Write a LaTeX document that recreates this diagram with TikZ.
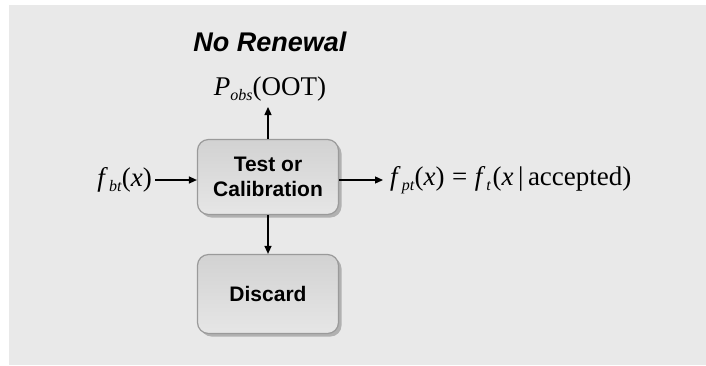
\documentclass[tikz,border=0pt]{standalone}
\usepackage{fontspec}
\setmainfont{Liberation Serif}
\setsansfont{Liberation Sans}
\usetikzlibrary{arrows.meta,shadows}
\definecolor{panel}{HTML}{E9E9E9}
\definecolor{boxtop}{HTML}{D2D2D2}
\definecolor{boxbot}{HTML}{E6E6E6}
\definecolor{boxedge}{HTML}{9A9A9A}
\newcommand{\ivar}[1]{\textit{#1}}
\newcommand{\isub}[1]{\raisebox{-0.4ex}{\fontsize{16}{16}\selectfont\textit{#1}}}
\begin{document}
\begin{tikzpicture}[x=1pt,y=-1pt,
  procbox/.style={draw=boxedge, line width=1.2pt, rounded corners=11pt,
    top color=boxtop, bottom color=boxbot,
    minimum width=141pt, align=center,
    font=\sffamily\bfseries\fontsize{21}{25}\selectfont,
    drop shadow={shadow xshift=3pt, shadow yshift=-3pt, fill=black!45, opacity=0.6}},
  flow/.style={line width=1.3pt, -{Triangle[length=8pt,width=7pt]}},
  mathlabel/.style={font=\fontsize{27}{27}\selectfont, inner sep=0pt}]
  \useasboundingbox (0,0) rectangle (706,365);
  % grey panel
  \fill[panel] (9,5) rectangle (706,365);

  % heading
  \node[font=\sffamily\bfseries\itshape\fontsize{27}{27}\selectfont] (title) at (270,42) {No Renewal};

  % process boxes
  \node[procbox, minimum height=75pt] (test) at (268,177) {Test or\\Calibration};
  \node[procbox, minimum height=79pt] (discard) at (268,294) {Discard};

  % labels
  \node[mathlabel, anchor=south] (pobs) at (270,101) {\ivar{P}\isub{obs}(OOT)};
  \node[mathlabel, anchor=east] (fbt) at (152,180) {\ivar{f}\kern1pt\isub{bt}(\ivar{x})};
  \node[mathlabel, anchor=west] (fpt) at (390,180) {\ivar{f}\kern1pt\isub{pt}(\ivar{x})\;=\;\ivar{f}\kern1pt\isub{t}\kern1.5pt(\ivar{x}\,|\,accepted)};

  % connectors
  \draw[flow] (fbt.east) ++(3pt,0) coordinate (fbtout) (fbtout) -- (test.west |- fbtout);
  \draw[flow] (test.east |- fpt.west) -- ([xshift=-7pt]fpt.west);
  \draw[flow] (test.north) -- ([yshift=-6pt]pobs.south -| test.north);
  \draw[flow] (test.south) -- (discard.north);
\end{tikzpicture}
\end{document}
